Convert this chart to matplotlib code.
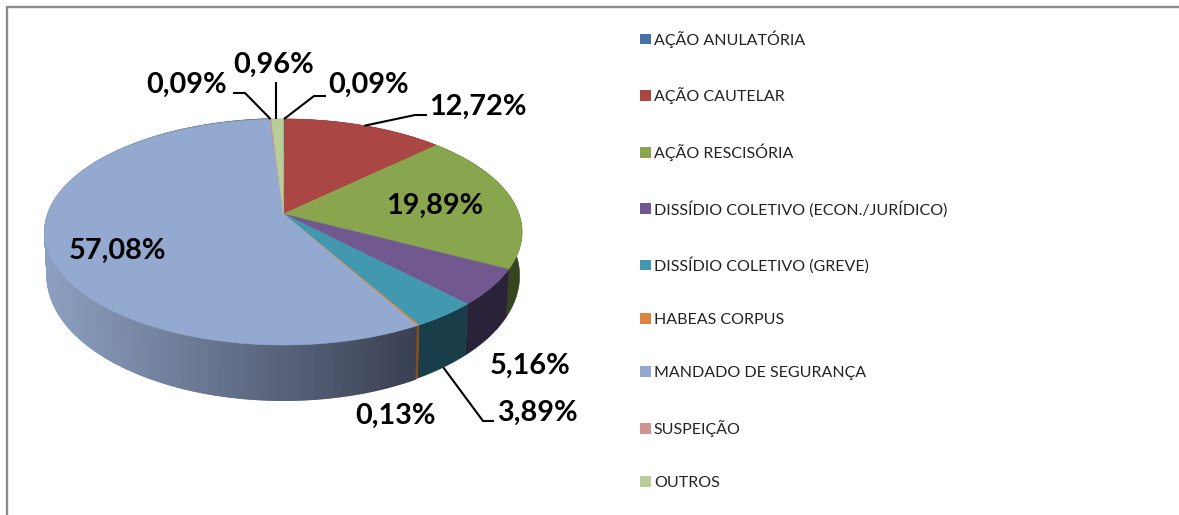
import numpy as np
import matplotlib
matplotlib.use("Agg")
import matplotlib.pyplot as plt
from matplotlib.patches import Patch, Polygon

categories = ["AÇÃO ANULATÓRIA", "AÇÃO CAUTELAR", "AÇÃO RESCISÓRIA",
              "DISSÍDIO COLETIVO (ECON./JURÍDICO)", "DISSÍDIO COLETIVO (GREVE)",
              "HABEAS CORPUS", "MANDADO DE SEGURANÇA", "SUSPEIÇÃO", "OUTROS"]
values = [0.09, 12.72, 19.89, 5.16, 3.89, 0.13, 57.08, 0.09, 0.96]
top_colors = ["#4572A7", "#AA4643", "#89A54E", "#71588F", "#4198AF",
              "#DB843D", "#93A9CF", "#D19392", "#B9CD96"]
side_colors = ["#22385A", "#5A2422", "#37451F", "#2A2238", "#1A3D4A",
               "#8A4A1A", None, "#6A4A4A", "#5A6A45"]

W, H = 1179, 515
fig = plt.figure(figsize=(W / 100, H / 100), dpi=100)
ax = fig.add_axes([0, 0, 1, 1])
ax.set_xlim(0, W)
ax.set_ylim(H, 0)
ax.axis("off")

# perspective disc
AX, AY = 283.5, 214.0
UP, DOWN = 95.0, 131.0
k = (DOWN - UP) / (DOWN + UP)
B = UP * (1 + k)
A = 238.5 * np.sqrt(1 - k * k)
SX, SY, DEPTH = 0.99, 1.10, 42.0


def rim(theta):
    x, y = np.sin(theta), np.cos(theta)
    d = 1 + k * y
    return A * x / d, -B * y / d


def top(theta):
    X, Y = rim(theta)
    return AX + X, AY + Y


def bottom(theta):
    X, Y = rim(theta)
    return AX + SX * X, AY + SY * Y + DEPTH


edges = np.concatenate([[0], np.cumsum(values)]) / np.sum(values) * 2 * np.pi


def wall_color(x):
    t = np.clip((x - 48) / (415 - 48), 0, 1)
    c0 = np.array([0x8C, 0x9F, 0xC0]) / 255
    c1 = np.array([0x3A, 0x40, 0x52]) / 255
    return tuple(c0 + (c1 - c0) * t)


# side wall: solid slices are one polygon, the large slice is shaded in strips
for i in range(len(values)):
    n = max(2, int((edges[i + 1] - edges[i]) / np.radians(0.5)))
    th = np.linspace(edges[i], edges[i + 1], n + 1)
    if side_colors[i]:
        pts = [top(t) for t in th] + [bottom(t) for t in th[::-1]]
        ax.add_patch(Polygon(pts, closed=True, fc=side_colors[i],
                             ec=side_colors[i], lw=0.4, zorder=2))
    else:
        for a, b in zip(th[:-1], th[1:]):
            pts = [top(a), top(b), bottom(b), bottom(a)]
            col = wall_color(0.5 * (pts[0][0] + pts[1][0]))
            ax.add_patch(Polygon(pts, closed=True, fc=col, ec=col, lw=1.2, zorder=1.5))

# top face
for i in range(len(values)):
    n = max(2, int((edges[i + 1] - edges[i]) / np.radians(0.5)))
    th = np.linspace(edges[i], edges[i + 1], n + 1)
    pts = [(AX, AY)] + [top(t) for t in th]
    ax.add_patch(Polygon(pts, closed=True, fc=top_colors[i], ec=top_colors[i],
                         lw=0.4, zorder=3))

border = "#8C8C8C"
ax.plot([7, W], [6.5, 6.5], color=border, lw=1.7, solid_capstyle="butt")
ax.plot([7, 7], [6, H], color=border, lw=1.7, solid_capstyle="butt")

# labels
label_font = dict(family="Lato", weight="bold", fontsize=20.8, color="black",
                  ha="center", va="center", zorder=6)
labels = [f"{v:.2f}%".replace(".", ",") for v in values]
label_xy = [(369, 85), (478, 107), (435, 206), (530, 366), (537, 413),
            (395, 416), (117, 251), (187, 85), (274, 65)]
for s, (x, y) in zip(labels, label_xy):
    ax.text(x, y, s, **label_font)

mid = 0.5 * (edges[:-1] + edges[1:])
leaders = {0: [(326, 96), (314, 96)], 1: [(427, 115), (415, 115)],
           4: [(494, 421), (483, 421)], 7: [(233, 93), (245, 93)],
           8: [(276, 82)]}
for i, path in leaders.items():
    end = bottom(mid[i]) if i == 4 else top(mid[i])
    if i == 8:
        end = (path[0][0], end[1])
    xs = [p[0] for p in path] + [end[0]]
    ys = [p[1] for p in path] + [end[1]]
    ax.plot(xs, ys, color="black", lw=1.5, solid_capstyle="butt", zorder=5)

# legend
handles = [Patch(fc=c, ec="none", label=l) for c, l in zip(top_colors, categories)]
ax.legend(handles=handles, loc="upper left", bbox_to_anchor=(637 / W, 1 - 27 / H),
          frameon=False, prop=dict(family="Lato", size=11.5),
          labelspacing=2.47, handlelength=0.65, handleheight=0.65,
          handletextpad=0.2, borderaxespad=0, borderpad=0.2, labelcolor="#222222")

fig.savefig("out.png", dpi=100)
